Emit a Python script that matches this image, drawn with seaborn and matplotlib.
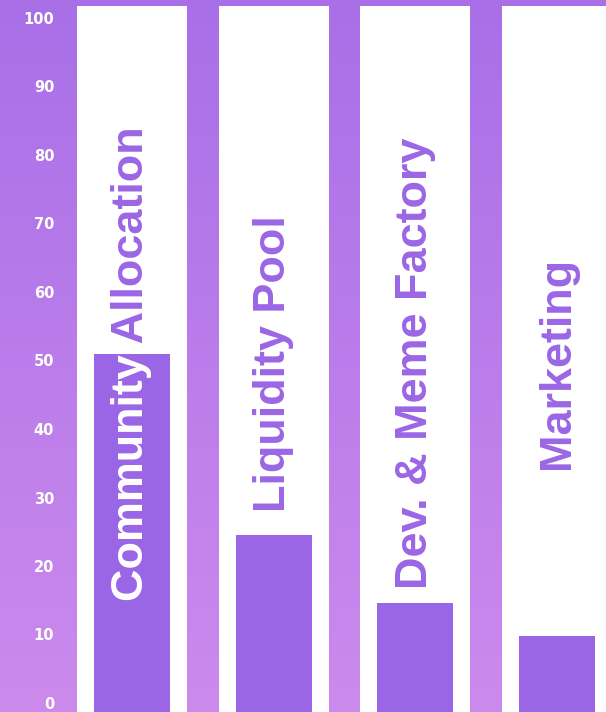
import matplotlib
matplotlib.use("Agg")
import matplotlib.pyplot as plt
import numpy as np
import seaborn as sns
from matplotlib.colors import LinearSegmentedColormap

sns.set_style("white")

categories = ["Community Allocation", "Liquidity Pool", "Dev. & Meme Factory", "Marketing"]
shares = [50.7, 25.1, 15.4, 10.8]
column_max = [100, 100, 100, 100]
tick_values = list(range(0, 101, 10))

purple = "#9b66e5"
bg_top = "#a86fe7"
bg_bottom = "#cc8aed"

W, H = 606, 712
fig = plt.figure(figsize=(W / 100, H / 100), dpi=100)

# gradient background
bg = fig.add_axes([0, 0, 1, 1], zorder=0)
grad = np.linspace(0, 1, 256).reshape(-1, 1)
cmap = LinearSegmentedColormap.from_list("bg", [bg_top, bg_bottom])
bg.imshow(grad, aspect="auto", cmap=cmap, extent=[0, 1, 0, 1], origin="upper")
bg.axis("off")

# main plot: white columns + share bars
step = 141.67
left_px = 132 - 0.5 * step
ax = fig.add_axes([left_px / W, 0, (W - left_px) / W, 706 / H], zorder=1)
ax.patch.set_alpha(0)
sns.barplot(x=categories, y=column_max, color="white", width=110 / step,
            saturation=1, linewidth=0, ax=ax)
sns.barplot(x=categories, y=shares, color=purple, width=76 / step,
            saturation=1, linewidth=0, ax=ax)
bars = ax.patches[len(categories):]
ax.set_xlim(-0.5, (W - 132) / step)
ax.set_ylim(0, 100)
ax.axis("off")

# labels: purple on white, white where they cross the bar
for i, (name, bar) in enumerate(zip(categories, bars)):
    ax.text(i, 49.4, name, rotation=90, ha="center", va="center",
            color=purple, fontsize=32.4, fontweight="bold",
            family="Liberation Sans")
    t = ax.text(i, 49.4, name, rotation=90, ha="center", va="center",
                color="white", fontsize=32.4, fontweight="bold",
                family="Liberation Sans")
    t.set_clip_on(True)
    t.set_clip_path(bar)

# y tick labels column
tax = fig.add_axes([57 / W, 9 / H, 0.001, 685 / H], zorder=2)
tax.patch.set_alpha(0)
tax.set_ylim(0, 100)
tax.set_yticks(tick_values)
tax.set_yticklabels([str(v) for v in tick_values], color="white",
                    fontsize=10.5, fontweight="bold", family="DejaVu Sans")
tax.tick_params(axis="y", length=0, pad=2)
tax.set_xticks([])
for s in tax.spines.values():
    s.set_visible(False)

fig.savefig("out.png", dpi=100)
